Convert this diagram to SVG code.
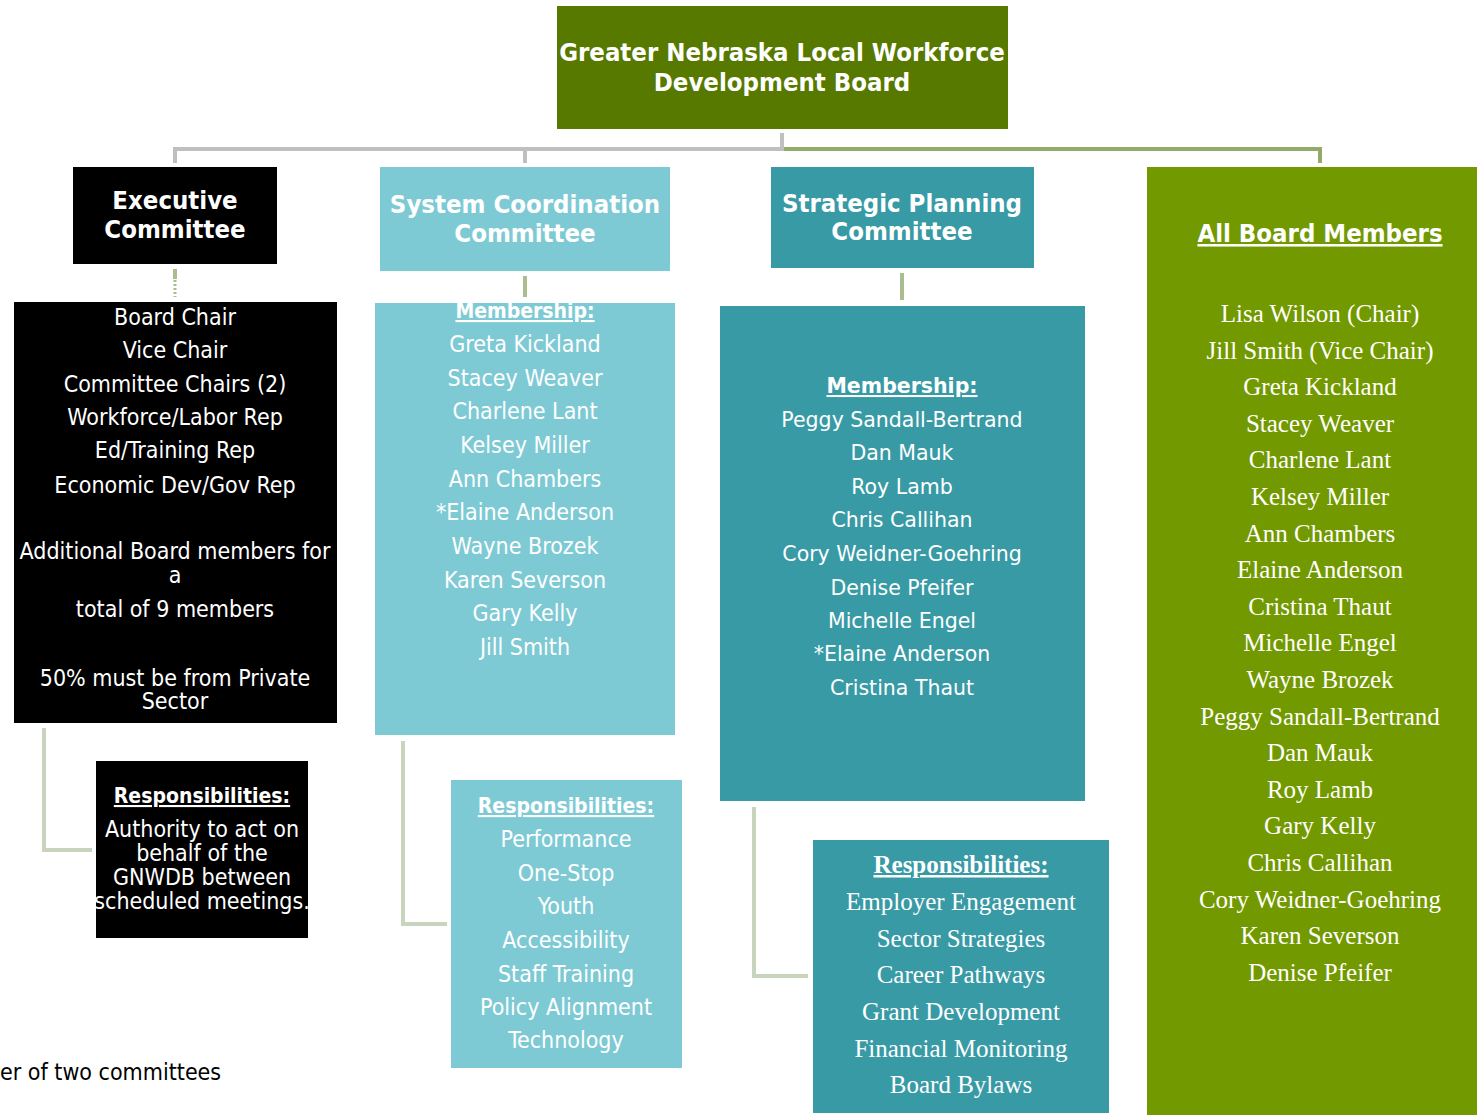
<svg xmlns="http://www.w3.org/2000/svg" width="1477" height="1115" viewBox="0 0 1477 1115">
<style>
.sans{font-family:"DejaVu Sans Condensed","DejaVu Sans",sans-serif;font-stretch:condensed;fill:#fff;text-anchor:middle}
.wide{font-family:"DejaVu Sans","Verdana",sans-serif;fill:#fff;text-anchor:middle}
.serif{font-family:"Liberation Serif","Times New Roman",serif;fill:#fff;text-anchor:middle}
.hd{font-weight:bold;font-size:25.5px}
.b{font-weight:bold}
.u{text-decoration:underline}
.conn{fill:none;stroke-linecap:butt}
</style>
<rect width="1477" height="1115" fill="#fff"/>

<g id="connectors" class="conn">
  <polyline points="175,163 175,149 784,149" stroke="#bfbfbf" stroke-width="4"/>
  <line x1="525" y1="149" x2="525" y2="163" stroke="#bfbfbf" stroke-width="4"/>
  <line x1="782" y1="133" x2="782" y2="151" stroke="#bfbfbf" stroke-width="4"/>
  <polyline points="784,149 1320,149 1320,163" stroke="#93ab68" stroke-width="4"/>
  <line x1="175" y1="269" x2="175" y2="279" stroke="#a9bd8f" stroke-width="4"/>
  <line x1="175" y1="280" x2="175" y2="297" stroke="#a9bd8f" stroke-width="3" stroke-dasharray="2 2"/>
  <line x1="525" y1="276" x2="525" y2="297" stroke="#a9bd8f" stroke-width="4"/>
  <line x1="902" y1="273" x2="902" y2="300" stroke="#a9bd8f" stroke-width="4"/>
  <polyline points="44,728 44,850 92,850" stroke="#c9d4bc" stroke-width="4"/>
  <polyline points="403,741 403,924 447,924" stroke="#c9d4bc" stroke-width="4"/>
  <polyline points="754,807 754,976 808,976" stroke="#c9d4bc" stroke-width="4"/>
</g>

<g id="board">
  <rect x="557" y="6" width="451" height="123" fill="#587900"/>
  <text class="sans hd"><tspan x="782" y="61">Greater Nebraska Local Workforce</tspan><tspan x="782" y="91">Development Board</tspan></text>
</g>

<g id="executive">
  <rect x="73" y="167" width="204" height="97" fill="#000"/>
  <text class="sans hd"><tspan x="175" y="209">Executive</tspan><tspan x="175" y="238">Committee</tspan></text>
</g>

<g id="executive-members">
  <rect x="14" y="302" width="323" height="421" fill="#000"/>
  <text class="sans" font-size="23"><tspan x="175" y="325">Board Chair</tspan><tspan x="175" y="358">Vice Chair</tspan><tspan x="175" y="392">Committee Chairs (2)</tspan><tspan x="175" y="425">Workforce/Labor Rep</tspan><tspan x="175" y="458">Ed/Training Rep</tspan><tspan x="175" y="493">Economic Dev/Gov Rep</tspan><tspan x="175" y="559">Additional Board members for</tspan><tspan x="175" y="583">a</tspan><tspan x="175" y="617">total of 9 members</tspan><tspan x="175" y="686">50% must be from Private</tspan><tspan x="175" y="709">Sector</tspan></text>
</g>

<g id="executive-responsibilities">
  <rect x="96" y="761" width="212" height="177" fill="#000"/>
  <text class="sans b u" font-size="21" x="202" y="803">Responsibilities:</text>
  <text class="sans" font-size="23"><tspan x="202" y="837">Authority to act on</tspan><tspan x="202" y="861">behalf of the</tspan><tspan x="202" y="885">GNWDB between</tspan><tspan x="202" y="909">scheduled meetings.</tspan></text>
</g>

<g id="system-coordination">
  <rect x="380" y="167" width="290" height="104" fill="#7ecad4"/>
  <text class="sans hd"><tspan x="525" y="213">System Coordination</tspan><tspan x="525" y="242">Committee</tspan></text>
</g>

<g id="system-members">
  <rect x="375" y="303" width="300" height="432" fill="#7ecad4"/>
  <text class="sans b u" font-size="21" x="525" y="318">Membership:</text>
  <text class="sans" font-size="23"><tspan x="525" y="352">Greta Kickland</tspan><tspan x="525" y="386">Stacey Weaver</tspan><tspan x="525" y="419">Charlene Lant</tspan><tspan x="525" y="453">Kelsey Miller</tspan><tspan x="525" y="487">Ann Chambers</tspan><tspan x="525" y="520">*Elaine Anderson</tspan><tspan x="525" y="554">Wayne Brozek</tspan><tspan x="525" y="588">Karen Severson</tspan><tspan x="525" y="621">Gary Kelly</tspan><tspan x="525" y="655">Jill Smith</tspan></text>
</g>

<g id="system-responsibilities">
  <rect x="451" y="780" width="231" height="288" fill="#7ecad4"/>
  <text class="sans b u" font-size="21" x="566" y="813">Responsibilities:</text>
  <text class="sans" font-size="23"><tspan x="566" y="847">Performance</tspan><tspan x="566" y="881">One-Stop</tspan><tspan x="566" y="914">Youth</tspan><tspan x="566" y="948">Accessibility</tspan><tspan x="566" y="982">Staff Training</tspan><tspan x="566" y="1015">Policy Alignment</tspan><tspan x="566" y="1048">Technology</tspan></text>
</g>

<g id="strategic-planning">
  <rect x="771" y="167" width="263" height="101" fill="#389aa5"/>
  <text class="sans hd"><tspan x="902" y="212">Strategic Planning</tspan><tspan x="902" y="240">Committee</tspan></text>
</g>

<g id="strategic-members">
  <rect x="720" y="306" width="365" height="495" fill="#389aa5"/>
  <text class="wide b u" font-size="20.5" x="902" y="393">Membership:</text>
  <text class="wide" font-size="20.5"><tspan x="902" y="427">Peggy Sandall-Bertrand</tspan><tspan x="902" y="460">Dan Mauk</tspan><tspan x="902" y="494">Roy Lamb</tspan><tspan x="902" y="527">Chris Callihan</tspan><tspan x="902" y="561">Cory Weidner-Goehring</tspan><tspan x="902" y="595">Denise Pfeifer</tspan><tspan x="902" y="628">Michelle Engel</tspan><tspan x="902" y="661">*Elaine Anderson</tspan><tspan x="902" y="695">Cristina Thaut</tspan></text>
</g>

<g id="strategic-responsibilities">
  <rect x="813" y="840" width="296" height="273" fill="#389aa5"/>
  <text class="serif b u" font-size="25" x="961" y="873">Responsibilities:</text>
  <text class="serif" font-size="25"><tspan x="961" y="910">Employer Engagement</tspan><tspan x="961" y="947">Sector Strategies</tspan><tspan x="961" y="983">Career Pathways</tspan><tspan x="961" y="1020">Grant Development</tspan><tspan x="961" y="1057">Financial Monitoring</tspan><tspan x="961" y="1093">Board Bylaws</tspan></text>
</g>

<g id="all-board-members">
  <rect x="1147" y="167" width="330" height="948" fill="#729900"/>
  <text class="sans hd u" x="1320" y="242">All Board Members</text>
  <text class="serif" font-size="25"><tspan x="1320" y="322">Lisa Wilson (Chair)</tspan><tspan x="1320" y="358.6">Jill Smith (Vice Chair)</tspan><tspan x="1320" y="395.2">Greta Kickland</tspan><tspan x="1320" y="431.8">Stacey Weaver</tspan><tspan x="1320" y="468.4">Charlene Lant</tspan><tspan x="1320" y="505">Kelsey Miller</tspan><tspan x="1320" y="541.6">Ann Chambers</tspan><tspan x="1320" y="578.2">Elaine Anderson</tspan><tspan x="1320" y="614.8">Cristina Thaut</tspan><tspan x="1320" y="651.4">Michelle Engel</tspan><tspan x="1320" y="688">Wayne Brozek</tspan><tspan x="1320" y="724.6">Peggy Sandall-Bertrand</tspan><tspan x="1320" y="761.2">Dan Mauk</tspan><tspan x="1320" y="797.8">Roy Lamb</tspan><tspan x="1320" y="834.4">Gary Kelly</tspan><tspan x="1320" y="871">Chris Callihan</tspan><tspan x="1320" y="907.6">Cory Weidner-Goehring</tspan><tspan x="1320" y="944.2">Karen Severson</tspan><tspan x="1320" y="980.8">Denise Pfeifer</tspan></text>
</g>

<g id="footnote">
  <text font-family="DejaVu Sans Condensed, DejaVu Sans, sans-serif" font-stretch="condensed" font-size="23" fill="#000" x="0" y="1080">er of two committees</text>
</g>
</svg>
